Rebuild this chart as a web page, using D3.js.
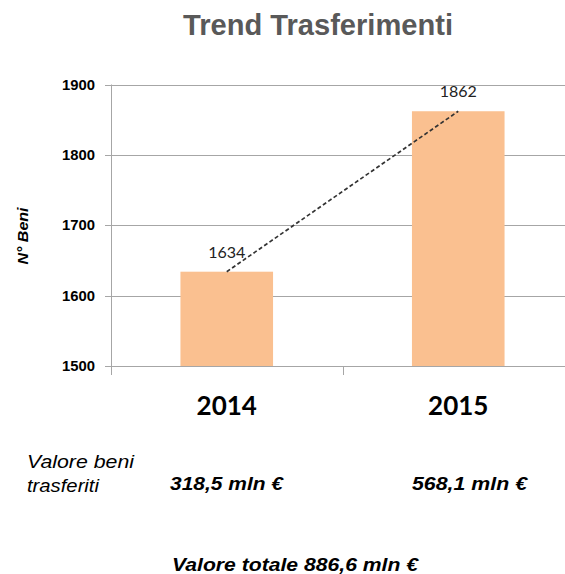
<!DOCTYPE html>
<html><head><meta charset="utf-8">
<script src="https://cdn.jsdelivr.net/npm/d3@7"></script>
<style>body{margin:0;background:#fff}svg{display:block}
.ar{font-family:"Liberation Sans",Arimo,Arial,Helvetica,sans-serif}
.la{font-family:Lato,"Open Sans",sans-serif}
</style>
</head><body>
<script>
const categories = ["2014", "2015"];
const values = [1634, 1862];
const yTicks = [1500, 1600, 1700, 1800, 1900];
const valueLabels = ["318,5 mln €", "568,1 mln €"];
const title = "Trend Trasferimenti";
const yTitle = "N° Beni";
const rowLabel = ["Valore beni", "trasferiti"];
const totalLabel = "Valore totale 886,6 mln €";

const W = 565, H = 574;
const svg = d3.select("body").append("svg").attr("width", W).attr("height", H);

const x = d3.scaleBand().domain(categories).range([111, 574]).paddingInner(0.6).paddingOuter(0.3);
const y = d3.scaleLinear().domain([1500, 1900]).range([366, 84.5]);

const grid = "#A6A6A6";
svg.append("g").selectAll("line").data(yTicks).join("line")
  .attr("x1", 105).attr("x2", 574)
  .attr("y1", d => Math.round(y(d)) + 0.5).attr("y2", d => Math.round(y(d)) + 0.5)
  .attr("stroke", grid).attr("stroke-width", 1);
svg.append("line").attr("x1", 111.5).attr("x2", 111.5).attr("y1", y(1900)).attr("y2", 375)
  .attr("stroke", grid);
const mid = (x("2014") + x.bandwidth() + x("2015")) / 2;
svg.append("line").attr("x1", Math.round(mid) + 0.5).attr("x2", Math.round(mid) + 0.5)
  .attr("y1", 366).attr("y2", 375).attr("stroke", grid);

svg.append("g").selectAll("text").data(yTicks).join("text")
  .attr("class", "ar")
  .attr("x", 95).attr("y", d => y(d) + 5)
  .attr("text-anchor", "end")
  .attr("font-weight", "bold").attr("font-size", 14).attr("fill", "#000")
  .attr("textLength", 33).attr("lengthAdjust", "spacingAndGlyphs")
  .text(d => d);

svg.append("g").selectAll("rect").data(values).join("rect")
  .attr("x", (d, i) => x(categories[i]))
  .attr("width", x.bandwidth())
  .attr("y", d => y(d))
  .attr("height", d => y(1500) - y(d))
  .attr("fill", "#FAC090");

const pts = values.map((v, i) => [x(categories[i]) + x.bandwidth() / 2, y(v)]);
svg.append("path").attr("d", d3.line()(pts))
  .attr("stroke", "#333").attr("stroke-width", 1.7)
  .attr("stroke-dasharray", "4,2.5").attr("fill", "none");

svg.append("g").selectAll("text").data(values).join("text")
  .attr("class", "la")
  .attr("x", (d, i) => x(categories[i]) + x.bandwidth() / 2)
  .attr("y", d => y(d) - 14)
  .attr("text-anchor", "middle")
  .attr("font-size", 16).attr("fill", "#222")
  .text(d => d);

svg.append("g").selectAll("text").data(categories).join("text")
  .attr("class", "la")
  .attr("x", d => x(d) + x.bandwidth() / 2).attr("y", 415)
  .attr("text-anchor", "middle")
  .attr("font-weight", "bold").attr("font-size", 26).attr("fill", "#000")
  .text(d => d);

svg.append("text").attr("class", "ar").attr("x", 318).attr("y", 35).attr("text-anchor", "middle")
  .attr("font-weight", "bold")
  .attr("font-size", 29.5).attr("fill", "#595959")
  .attr("textLength", 270).attr("lengthAdjust", "spacingAndGlyphs")
  .text(title);

svg.append("text").attr("class", "ar").attr("transform", "translate(28,236) rotate(-90)")
  .attr("text-anchor", "middle")
  .attr("font-weight", "bold").attr("font-style", "italic")
  .attr("font-size", 14).attr("fill", "#000")
  .attr("textLength", 57).attr("lengthAdjust", "spacingAndGlyphs")
  .text(yTitle);

svg.append("text").attr("class", "ar").attr("x", 27).attr("y", 468)
  .attr("font-style", "italic").attr("font-size", 18.5)
  .attr("textLength", 107).attr("lengthAdjust", "spacingAndGlyphs")
  .text(rowLabel[0]);
svg.append("text").attr("class", "ar").attr("x", 27).attr("y", 492)
  .attr("font-style", "italic").attr("font-size", 18.5)
  .attr("textLength", 72).attr("lengthAdjust", "spacingAndGlyphs")
  .text(rowLabel[1]);

const valX = [170, 412];
svg.append("g").selectAll("text").data(valueLabels).join("text")
  .attr("class", "ar")
  .attr("x", (d, i) => valX[i]).attr("y", 490)
  .attr("font-style", "italic").attr("font-weight", "bold").attr("font-size", 18.5)
  .attr("textLength", (d, i) => i === 0 ? 113 : 115).attr("lengthAdjust", "spacingAndGlyphs")
  .text(d => d);

svg.append("text").attr("class", "ar").attr("x", 172).attr("y", 571)
  .attr("font-style", "italic").attr("font-weight", "bold").attr("font-size", 19)
  .attr("textLength", 246).attr("lengthAdjust", "spacingAndGlyphs")
  .text(totalLabel);
</script>
</body></html>
